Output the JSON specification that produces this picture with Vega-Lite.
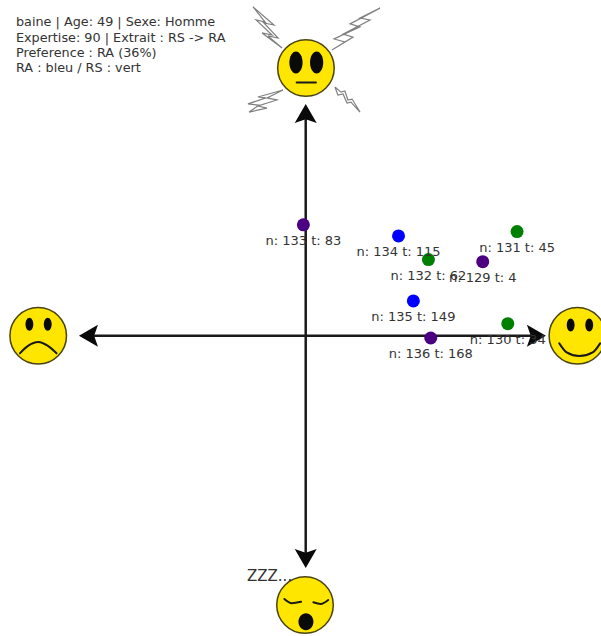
{
"$schema":"https://vega.github.io/schema/vega-lite/v6.json",
"width":601,"height":636,"autosize":{"type":"none"},"padding":0,
"background":"white",
"config":{"view":{"stroke":null}},
"datasets":{
"axes":[{"axis":"h","x":-0.93,"y":0},{"axis":"h","x":0.988,"y":0},{"axis":"v","x":0,"y":0.951},{"axis":"v","x":0,"y":-0.954}],
"arrows":[{"x":0,"y":0.951,"heading":0},{"x":0.988,"y":0,"heading":90},{"x":0,"y":-0.954,"heading":180},{"x":-0.93,"y":0,"heading":270}],
"bolts":[
{"b":"UR","i":0,"x":0.320,"y":1.412},{"b":"UR","i":1,"x":0.191,"y":1.344},{"b":"UR","i":2,"x":0.234,"y":1.331},{"b":"UR","i":3,"x":0.122,"y":1.279},{"b":"UR","i":4,"x":0.169,"y":1.266},{"b":"UR","i":5,"x":0.113,"y":1.231},{"b":"UR","i":6,"x":0.204,"y":1.287},{"b":"UR","i":7,"x":0.161,"y":1.300},{"b":"UR","i":8,"x":0.277,"y":1.361},{"b":"UR","i":9,"x":0.234,"y":1.369},{"b":"UR","i":10,"x":0.320,"y":1.412},
{"b":"UL","i":0,"x":-0.227,"y":1.417},{"b":"UL","i":1,"x":-0.137,"y":1.339},{"b":"UL","i":2,"x":-0.180,"y":1.348},{"b":"UL","i":3,"x":-0.119,"y":1.283},{"b":"UL","i":4,"x":-0.163,"y":1.292},{"b":"UL","i":5,"x":-0.102,"y":1.240},{"b":"UL","i":6,"x":-0.188,"y":1.305},{"b":"UL","i":7,"x":-0.145,"y":1.296},{"b":"UL","i":8,"x":-0.214,"y":1.361},{"b":"UL","i":9,"x":-0.175,"y":1.352},{"b":"UL","i":10,"x":-0.227,"y":1.417},
{"b":"LL","i":0,"x":-0.098,"y":1.059},{"b":"LL","i":1,"x":-0.206,"y":1.029},{"b":"LL","i":2,"x":-0.171,"y":1.025},{"b":"LL","i":3,"x":-0.249,"y":0.999},{"b":"LL","i":4,"x":-0.201,"y":0.994},{"b":"LL","i":5,"x":-0.244,"y":0.964},{"b":"LL","i":6,"x":-0.167,"y":0.981},{"b":"LL","i":7,"x":-0.206,"y":0.990},{"b":"LL","i":8,"x":-0.124,"y":1.016},{"b":"LL","i":9,"x":-0.167,"y":1.025},{"b":"LL","i":10,"x":-0.098,"y":1.059},
{"b":"LR","i":0,"x":0.126,"y":1.072},{"b":"LR","i":1,"x":0.139,"y":1.037},{"b":"LR","i":2,"x":0.161,"y":1.042},{"b":"LR","i":3,"x":0.178,"y":1.003},{"b":"LR","i":4,"x":0.195,"y":1.007},{"b":"LR","i":5,"x":0.234,"y":0.964},{"b":"LR","i":6,"x":0.200,"y":1.020},{"b":"LR","i":7,"x":0.182,"y":1.016},{"b":"LR","i":8,"x":0.169,"y":1.055},{"b":"LR","i":9,"x":0.152,"y":1.050},{"b":"LR","i":10,"x":0.126,"y":1.072}
],
"faces":[{"face":"stress","x":0.001,"y":1.154},{"face":"triste","x":-1.153,"y":0},{"face":"content","x":1.171,"y":0},{"face":"sommeil","x":-0.003,"y":-1.161}],
"bigEyes":[{"x":-0.042,"y":1.178},{"x":0.047,"y":1.178}],
"smallEyes":[{"x":-1.191,"y":0.049},{"x":-1.112,"y":0.049},{"x":1.142,"y":0.046},{"x":1.222,"y":0.046}],
"yawn":[{"x":0.001,"y":-1.233}],
"mouths":[
{"m":"triste","i":0,"x":-1.232,"y":-0.076},{"m":"triste","i":1,"x":-1.197,"y":-0.044},{"m":"triste","i":2,"x":-1.153,"y":-0.027},{"m":"triste","i":3,"x":-1.111,"y":-0.044},{"m":"triste","i":4,"x":-1.074,"y":-0.076},
{"m":"content","i":0,"x":1.093,"y":-0.033},{"m":"content","i":1,"x":1.125,"y":-0.072},{"m":"content","i":2,"x":1.179,"y":-0.088},{"m":"content","i":3,"x":1.237,"y":-0.072},{"m":"content","i":4,"x":1.269,"y":-0.033},
{"m":"stress","i":0,"x":-0.039,"y":1.091},{"m":"stress","i":1,"x":0.044,"y":1.091},
{"m":"dortG","i":0,"x":-0.092,"y":-1.135},{"m":"dortG","i":1,"x":-0.060,"y":-1.153},{"m":"dortG","i":2,"x":-0.020,"y":-1.147},
{"m":"dortD","i":0,"x":0.033,"y":-1.149},{"m":"dortD","i":1,"x":0.065,"y":-1.156},{"m":"dortD","i":2,"x":0.097,"y":-1.139}
],
"points":[
{"n":129,"t":4,"x":0.763,"y":0.319,"groupe":"autre","label":"n: 129 t: 4"},
{"n":130,"t":34,"x":0.871,"y":0.052,"groupe":"RS","label":"n: 130 t: 34"},
{"n":131,"t":45,"x":0.911,"y":0.449,"groupe":"RS","label":"n: 131 t: 45"},
{"n":132,"t":62,"x":0.529,"y":0.328,"groupe":"RS","label":"n: 132 t: 62"},
{"n":133,"t":83,"x":-0.010,"y":0.478,"groupe":"autre","label":"n: 133 t: 83"},
{"n":134,"t":115,"x":0.400,"y":0.430,"groupe":"RA","label":"n: 134 t: 115"},
{"n":135,"t":149,"x":0.464,"y":0.150,"groupe":"RA","label":"n: 135 t: 149"},
{"n":136,"t":168,"x":0.539,"y":-0.010,"groupe":"autre","label":"n: 136 t: 168"}
],
"info":[
{"x":-1.249,"y":1.352,"text":"baine | Age: 49 | Sexe: Homme"},
{"x":-1.249,"y":1.283,"text":"Expertise: 90 | Extrait : RS -> RA"},
{"x":-1.249,"y":1.219,"text":"Preference : RA (36%)"},
{"x":-1.249,"y":1.154,"text":"RA : bleu / RS : vert"}
],
"zzz":[{"x":-0.253,"y":-1.036,"text":"ZZZ..."}]
},
"encoding":{
"x":{"field":"x","type":"quantitative","axis":null,"scale":{"domain":[-1.3177,1.2728],"nice":false,"zero":false}},
"y":{"field":"y","type":"quantitative","axis":null,"scale":{"domain":[-1.2944,1.447],"nice":false,"zero":false}}
},
"layer":[
{"data":{"name":"bolts"},"mark":{"type":"line","stroke":"#808080","strokeWidth":1.2,"strokeJoin":"miter"},"encoding":{"detail":{"field":"b"},"order":{"field":"i","type":"quantitative"}}},
{"data":{"name":"axes"},"mark":{"type":"line","stroke":"#1a1a1a","strokeWidth":2.5},"encoding":{"detail":{"field":"axis"}}},
{"data":{"name":"arrows"},"mark":{"type":"point","filled":true,"fill":"#0a0a0a","opacity":1,"size":484,"shape":"M0,-1L1,0.73L0,0.38L-1,0.73Z"},"encoding":{"angle":{"field":"heading","type":"quantitative","scale":null}}},
{"data":{"name":"faces"},"mark":{"type":"circle","size":3200,"fill":"#ffe600","stroke":"#4a4410","strokeWidth":1.5,"opacity":1}},
{"data":{"name":"bigEyes"},"mark":{"type":"point","filled":true,"fill":"#0a0a0a","opacity":1,"size":484,"shape":"M0,-1A0.6,1 0 1,1 0,1A0.6,1 0 1,1 0,-1Z"}},
{"data":{"name":"smallEyes"},"mark":{"type":"point","filled":true,"fill":"#0a0a0a","opacity":1,"size":169,"shape":"M0,-1A0.6,1 0 1,1 0,1A0.6,1 0 1,1 0,-1Z"}},
{"data":{"name":"yawn"},"mark":{"type":"point","filled":true,"fill":"#0a0a0a","opacity":1,"size":289,"shape":"M0,-1A0.88,1 0 1,1 0,1A0.88,1 0 1,1 0,-1Z"}},
{"data":{"name":"mouths"},"mark":{"type":"line","stroke":"#1a1a1a","strokeWidth":2,"interpolate":"monotone","strokeCap":"round"},"encoding":{"detail":{"field":"m"},"order":{"field":"i","type":"quantitative"}}},
{"data":{"name":"points"},"mark":{"type":"circle","size":169,"opacity":1},"encoding":{"color":{"field":"groupe","type":"nominal","legend":null,"scale":{"domain":["RA","RS","autre"],"range":["#0000ff","#008000","#4b0082"]}}}},
{"data":{"name":"points"},"mark":{"type":"text","font":"DejaVu Sans","fontSize":13,"align":"center","baseline":"middle","dy":16,"fill":"#333333"},"encoding":{"text":{"field":"label"}}},
{"data":{"name":"info"},"mark":{"type":"text","font":"DejaVu Sans","fontSize":12.8,"align":"left","baseline":"middle","fill":"#333333"},"encoding":{"text":{"field":"text"}}},
{"data":{"name":"zzz"},"mark":{"type":"text","font":"DejaVu Sans","fontSize":15,"align":"left","baseline":"middle","fill":"#333333"},"encoding":{"text":{"field":"text"}}}
]
}
